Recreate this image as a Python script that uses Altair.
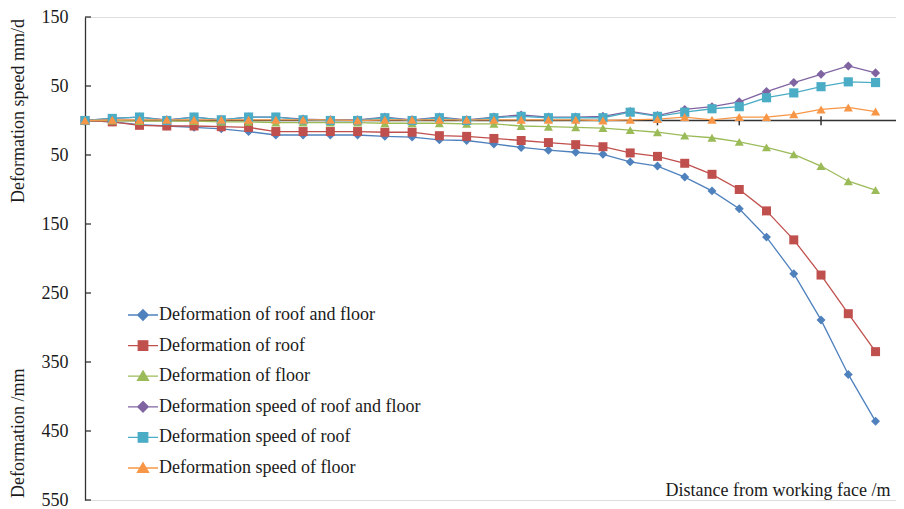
import altair as alt
import pandas as pd

# ---- data ----
positions = list(range(30))
series_names = [
    "Deformation of roof and floor",
    "Deformation of roof",
    "Deformation of floor",
    "Deformation speed of roof and floor",
    "Deformation speed of roof",
    "Deformation speed of floor",
]
colors = ["#4F81BD", "#C0504D", "#9BBB59", "#8064A2", "#4BACC6", "#F79646"]

def_roof_floor = [0, 2, 6, 8, 10, 12, 16, 21, 21, 21, 21, 23, 24, 28, 29, 34, 39, 43, 46, 49,
                  60, 66, 82, 102, 128, 169, 222, 289, 368, 436]
def_roof = [0, 2, 7, 8, 8, 9, 10, 16, 16, 16, 16, 17, 17, 22, 23, 26, 29, 32, 35, 38,
            47, 52, 62, 78, 100, 131, 173, 224, 280, 335]
def_floor = [0, 0, 1, 1, 1, 2, 2, 3, 3, 3, 3, 4, 4, 4, 5, 5, 8, 9, 10, 11,
             14, 17, 22, 25, 31, 39, 49, 66, 88, 101]
spd_roof_floor = [0, 3, 5, 1, 5, 1, 5, 5, 2, 1, 1, 5, 1, 5, 1, 5, 8, 5, 5, 6,
                  13, 7, 16, 20, 27, 42, 55, 67, 79, 69]
spd_roof = [0, 3, 5, 0, 5, 1, 5, 5, 1, 0, 0, 4, 0, 4, 0, 4, 6, 4, 4, 4,
            12, 6, 12, 17, 20, 33, 40, 49, 56, 55]
spd_floor = [0, 1, 1, 1, 1, 1, 1, 1, 1, 1, 0, 1, 1, 1, 1, 1, 1, 1, 1, 0,
             1, 2, 5, 1, 5, 5, 9, 16, 19, 13]

y_tick_values = [-150, -50, 50, 150, 250, 350, 450, 550]
x_tick_values = list(range(0, 31, 3))

shapes = ["diamond", "square", "triangle-up", "diamond", "square", "triangle-up"]
sizes = [80, 85, 100, 80, 85, 100]
legend_paths = [
    "M-3,0H3M0,-1.05L1.05,0L0,1.05L-1.05,0Z",
    "M-3,0H3M-0.95,-0.95H0.95V0.95H-0.95Z",
    "M-3,0H3M0,-1.05L1.1,0.85H-1.1Z",
    "M-3,0H3M0,-1.05L1.05,0L0,1.05L-1.05,0Z",
    "M-3,0H3M-0.95,-0.95H0.95V0.95H-0.95Z",
    "M-3,0H3M0,-1.05L1.1,0.85H-1.1Z",
]

# ---- tables ----
all_values = [def_roof_floor, def_roof, def_floor, spd_roof_floor, spd_roof, spd_floor]
rows = []
for k, (name, vals) in enumerate(zip(series_names, all_values)):
    sign = -1 if "speed" in name else 1  # speeds plotted upward
    for i, v in zip(positions, vals):
        rows.append({"i": i, "value": sign * v, "series": name, "k": k})
df = pd.DataFrame(rows)

FONT = "Liberation Serif"
TXT = "#1a1a1a"
AX = "#333333"

W = 811
H = 483
# the axis runs to 30, slightly past the right edge of the page
x_scale = alt.Scale(domain=[0, 29.75], nice=False, zero=False)
y_scale = alt.Scale(domain=[-150, 550], reverse=True, nice=False, zero=False)

x_axis = alt.Axis(domain=False, ticks=False, labels=False, grid=False,
                  title="Distance from working face /m", titleFont=FONT, titleFontSize=18,
                  titleFontWeight="normal", titleColor=TXT, titleAnchor="end",
                  titleAlign="right", titleX=805, titleY=-5, titleBaseline="alphabetic")
y_axis = alt.Axis(values=y_tick_values, labelExpr="abs(datum.value)", ticks=False,
                  grid=False, domain=True, domainColor=AX, domainWidth=1.3,
                  labelFont=FONT, labelFontSize=18, labelColor=TXT, labelPadding=17,
                  title=None)


def col_scale():
    return alt.Scale(domain=series_names, range=colors)


lines = alt.Chart(df).mark_line(strokeWidth=1.3).encode(
    x=alt.X("i:Q", scale=x_scale, axis=x_axis),
    y=alt.Y("value:Q", scale=y_scale, axis=y_axis),
    color=alt.Color("series:N", scale=col_scale(), legend=None),
    order=alt.Order("i:Q"),
)

points = alt.Chart(df).mark_point(filled=True, opacity=1).encode(
    x=alt.X("i:Q", scale=x_scale, axis=x_axis),
    y=alt.Y("value:Q", scale=y_scale, axis=y_axis),
    color=alt.Color("series:N", scale=col_scale(), legend=None),
    shape=alt.Shape("series:N", scale=alt.Scale(domain=series_names, range=shapes), legend=None),
    size=alt.Size("series:N", scale=alt.Scale(domain=series_names, range=sizes), legend=None),
)

leg = alt.Legend(orient="none", legendX=49, legendY=289, title=None, padding=0,
                 labelFont=FONT, labelFontSize=18, labelColor=TXT, labelOffset=7,
                 labelLimit=0, rowPadding=12.6, symbolStrokeWidth=1.3)

legend_layer = alt.Chart(df).transform_filter("false").mark_point(
    filled=True, size=75, strokeWidth=1.3, opacity=1
).encode(
    x=alt.X("i:Q", scale=x_scale, axis=x_axis),
    y=alt.Y("value:Q", scale=y_scale, axis=y_axis),
    color=alt.Color("series:N", scale=col_scale(), legend=leg),
    stroke=alt.Stroke("series:N", scale=col_scale(), legend=leg),
    shape=alt.Shape("series:N", scale=alt.Scale(domain=series_names, range=legend_paths), legend=leg),
)

zero_df = pd.DataFrame({"x0": [0], "x1": [30], "y0": [0]})
zero_line = alt.Chart(zero_df).mark_rule(color=AX, strokeWidth=1.5).encode(
    x=alt.X("x0:Q", scale=x_scale, axis=x_axis),
    x2="x1:Q",
    y=alt.Y("y0:Q", scale=y_scale, axis=y_axis),
)

xt_df = pd.DataFrame({"xt": x_tick_values, "ya": [-6] * len(x_tick_values), "yb": [7] * len(x_tick_values)})
x_ticks = alt.Chart(xt_df).mark_rule(color=AX, strokeWidth=1.5).encode(
    x=alt.X("xt:Q", scale=x_scale, axis=x_axis),
    y=alt.Y("ya:Q", scale=y_scale, axis=y_axis),
    y2="yb:Q",
)

yt_df = pd.DataFrame({"yt": y_tick_values})
y_ticks = alt.Chart(yt_df).mark_rule(color=AX, strokeWidth=1.3).encode(
    y=alt.Y("yt:Q", scale=y_scale, axis=y_axis),
    x=alt.value(0),
    x2=alt.value(6),
)

title_top = alt.Chart(pd.DataFrame({"t": ["Deformation speed mm/d"]})).mark_text(
    angle=270, font=FONT, fontSize=18, color=TXT, baseline="middle", align="center"
).encode(x=alt.value(-66), y=alt.value(94), text="t:N")

title_bottom = alt.Chart(pd.DataFrame({"t": ["Deformation /mm"]})).mark_text(
    angle=270, font=FONT, fontSize=18, color=TXT, baseline="middle", align="left"
).encode(x=alt.value(-66), y=alt.value(481), text="t:N")

chart = alt.layer(
    zero_line, x_ticks, y_ticks, lines, points, legend_layer, title_top, title_bottom
).resolve_scale(
    color="independent", shape="independent", stroke="independent", size="independent"
).properties(
    width=W, height=H,
    autosize=alt.AutoSizeParams(type="none"),
    padding={"left": 77, "top": 9, "right": 0, "bottom": 9},
).configure_view(stroke=None).configure(background="white")

chart.save("out.html", embed_options={"renderer": "svg", "actions": False})
